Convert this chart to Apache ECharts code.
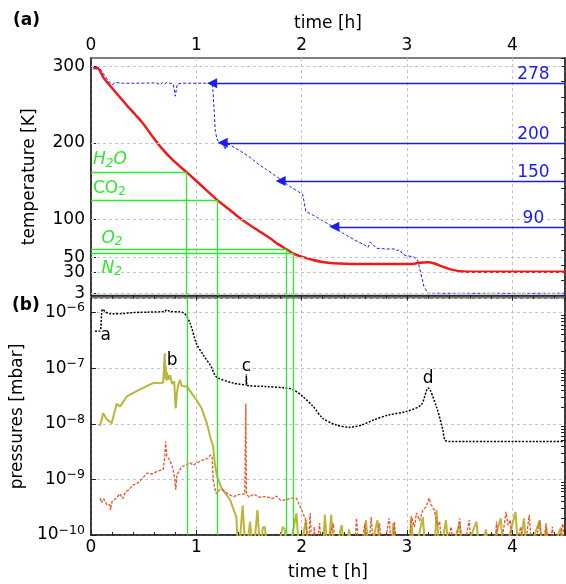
<!DOCTYPE html>
<html><head><meta charset="utf-8">
<script src="https://cdn.jsdelivr.net/npm/echarts@6/dist/echarts.min.js"></script>
<style>html,body{margin:0;padding:0;background:#fff}#c{width:566px;height:584px}</style>
</head><body><div id="c"></div>
<script>
// ---------- data ----------
const timeTicks = [0, 1, 2, 3, 4];
const tempTicks = [3, 30, 50, 100, 200, 300];

const redTime = [0.02,0.07,0.12,0.18,0.26,0.34,0.42,0.49,0.575,0.67,0.78,0.907,1.0,1.1,1.197,1.3,1.4,1.5,1.6,1.7,1.78,1.855,1.918,2.0,2.1,2.2,2.3,2.5,2.8,3.05,3.12,3.2,3.26,3.32,3.4,3.5,3.7,4.5];
const redTemp = [298,297,285,275,262,249,237,226,210,193,177,161.6,150,137.5,125.3,114,103,93,84,75,67,60.7,55.4,51,47,44,42.5,41.5,41.5,41.5,43,43.5,42,39,35,32,31.3,31.3];

const blueTime = [0.0,0.05,0.08,0.12,0.16,0.2,0.23,0.3,0.5,0.62,0.66,0.68,0.7,0.72,0.75,0.78,0.79,0.8,0.81,0.82,0.86,1.0,1.15,1.16,1.17,1.18,1.2,1.23,1.26,1.27,1.29,1.31,1.41,1.5,1.6,1.665,1.72,1.79,1.886,1.97,2.01,2.02,2.04,2.1,2.2,2.3,2.4,2.5,2.6,2.63,2.65,2.67,2.71,2.8,2.88,2.9,2.93,2.96,3.0,3.06,3.1,3.13,3.16,3.2,4.5];
const blueTemp = [300,300,298,290,282,276,279,278,278,278.5,276,279,277,279,278,277,270,261,270,277,278,278,278,265,240,215,203,200,198,191,197,198,190,182,171,165,160,153,143,136,132,125,110,106,98,90,81,73,66,63,70,68,62,61,61,59,60,54,52,51,47,30,12,3,3];

const setTemps = [278, 200, 150, 90];
const setArrowTimes = [1.15, 1.25, 1.8, 2.31];
const setLabelTime = 4.2;

const gasLabels = ['{i|H}{si|2}{i|O}', '{n|CO}{s|2}', '{i|O}{si|2}', '{i|N}{si|2}'];
const gasTemps = [161.6, 125.3, 60.7, 55.4];
const gasTimes = [0.907, 1.197, 1.855, 1.918];
const gasLabelPos = [[0.0, 177.7], [0.0, 140.6], [0.08, 75.1], [0.08, 35.8]];

const totTime = [0.038,0.085,0.1,0.11,0.14,0.18,0.3,0.4,0.55,0.7,0.72,0.75,0.875,0.94,1.0,1.065,1.14,1.175,1.21,1.35,1.47,1.475,1.48,1.65,1.855,1.92,2.01,2.11,2.2,2.33,2.455,2.57,2.68,2.83,2.99,3.135,3.2,3.28,3.34,3.36,3.4,4.5];
const totP = [4.6e-7,4.7e-7,9e-7,1.15e-6,1.02e-6,9.5e-7,9.6e-7,1.0e-6,1.02e-6,1.05e-6,1.12e-6,1.05e-6,1.0e-6,6.5e-7,2.8e-7,1.74e-7,1.07e-7,7.6e-8,6.6e-8,5.4e-8,5.0e-8,7.6e-8,5.0e-8,4.7e-8,4.4e-8,4.1e-8,3.1e-8,2.04e-8,1.26e-8,9.5e-9,8.7e-9,9.5e-9,1.17e-8,1.45e-8,1.66e-8,2.2e-8,4.4e-8,2.0e-8,7.8e-9,5.1e-9,4.8e-9,4.8e-9];

const oliveTime = [0.085,0.116,0.15,0.196,0.244,0.275,0.34,0.46,0.59,0.685,0.69,0.70,0.705,0.71,0.715,0.72,0.735,0.75,0.77,0.79,0.80,0.805,0.815,0.83,0.845,0.86,0.91,1.0,1.05,1.1,1.14,1.16,1.175,1.197,1.24,1.32,1.38,1.40,1.44,1.47,1.51,1.54,1.58,1.61,1.63,1.65,1.68,1.76,1.82,1.84,1.87,1.95,1.98,2.04,2.07,2.2,2.22,2.25,2.28,2.31,2.38,2.41,2.45,2.48,2.58,2.61,2.64,2.72,2.75,2.85,2.87,2.9,3.02,3.04,3.07,3.15,3.18,3.26,3.28,3.31,3.37,3.4,3.5,3.53,3.66,3.69,3.75,3.78,3.89,3.92,4.03,4.06,4.11,4.14,4.26,4.29,4.32,4.35,4.46,4.5];
const oliveP = [9.1e-9,1.55e-8,1.2e-8,1.02e-8,2.3e-8,2.04e-8,3.1e-8,4.1e-8,5.4e-8,5.5e-8,5.6e-8,1.86e-7,6.5e-8,1.1e-7,6e-8,8.5e-8,6.2e-8,7.5e-8,5.2e-8,5.8e-8,2.5e-8,1.9e-8,3.5e-8,5.2e-8,6.2e-8,4.8e-8,4.7e-8,2.7e-8,1.9e-8,1.02e-8,5.1e-9,3.9e-9,1.95e-9,1.12e-9,6.9e-10,4.3e-10,2.1e-10,4e-11,3.4e-10,4e-11,1.74e-10,4e-11,2.8e-10,4e-11,1.35e-10,1.4e-10,4e-11,4e-11,1.4e-10,1.26e-10,4e-11,2.45e-10,4e-11,1.86e-10,4e-11,4e-11,2.3e-10,4e-11,2.3e-10,4e-11,1.5e-10,4e-11,1.26e-10,4e-11,4e-11,1.86e-10,4e-11,1.86e-10,4e-11,4e-11,1.62e-10,4e-11,4e-11,2.0e-10,4e-11,2.1e-10,4e-11,4e-11,2.8e-10,4e-11,1.86e-10,4e-11,1.62e-10,4e-11,1.74e-10,4e-11,1.26e-10,4e-11,2.0e-10,4e-11,2.6e-10,4e-11,2.0e-10,4e-11,1.86e-10,4e-11,1.4e-10,4e-11,1.35e-10,4e-11];

const orangeTime = [0.085,0.1,0.12,0.15,0.18,0.185,0.2,0.24,0.275,0.3,0.33,0.36,0.4,0.44,0.48,0.53,0.58,0.63,0.685,0.70,0.708,0.72,0.75,0.78,0.795,0.805,0.815,0.86,0.9,0.94,0.97,1.03,1.08,1.11,1.135,1.15,1.16,1.175,1.19,1.22,1.25,1.3,1.35,1.4,1.46,1.47,1.475,1.5,1.54,1.6,1.665,1.72,1.76,1.8,1.855,1.9,1.95,2.0,2.04,2.06,2.08,2.1,2.12,2.14,2.17,2.2,2.3,2.33,2.5,2.52,2.55,2.6,2.63,2.66,2.69,2.74,2.77,2.83,2.86,2.88,2.91,3.02,3.04,3.07,3.09,3.12,3.15,3.18,3.21,3.23,3.26,3.29,3.31,3.34,3.42,3.45,3.5,3.53,3.59,3.62,3.83,3.85,3.88,3.94,3.96,3.98,4.01,4.08,4.11,4.16,4.19,4.26,4.29,4.32,4.35,4.38,4.41,4.48,4.5];
const orangeP = [4.6e-10,3.8e-10,4.5e-10,3.5e-10,3.5e-10,2.8e-10,4e-10,4.6e-10,5.5e-10,4.5e-10,6e-10,6.5e-10,8e-10,8.5e-10,1.0e-9,1.3e-9,1.25e-9,1.4e-9,1.5e-9,2.5e-9,4.8e-9,2.6e-9,2.2e-9,1.5e-9,1.0e-9,6.5e-10,1.2e-9,1.7e-9,1.8e-9,2.0e-9,1.8e-9,2.1e-9,2.3e-9,2.4e-9,2.75e-9,2.5e-9,1.0e-9,7e-10,5.5e-10,6.5e-10,6.5e-10,5.5e-10,4.9e-10,5.3e-10,5.5e-10,2.3e-8,5.5e-10,4.8e-10,5.4e-10,4.8e-10,4.9e-10,4.5e-10,5.0e-10,4.2e-10,4.3e-10,4.6e-10,4.6e-10,2.8e-10,1.86e-10,4e-11,2.45e-10,4e-11,1.4e-10,4e-11,1.62e-10,4e-11,1.62e-10,4e-11,4e-11,2.0e-10,4e-11,1.62e-10,4e-11,2.1e-10,4e-11,1.62e-10,4e-11,2.0e-10,4e-11,1.74e-10,4e-11,4e-11,2.2e-10,1.4e-10,2.5e-10,1.8e-10,2.8e-10,3.2e-10,4.6e-10,3.5e-10,2.8e-10,1.5e-10,1.74e-10,4e-11,1.4e-10,4e-11,2.0e-10,4e-11,1.86e-10,4e-11,4e-11,1.74e-10,4e-11,2.6e-10,1.5e-10,1.86e-10,4e-11,1.4e-10,4e-11,2.3e-10,4e-11,1.74e-10,4e-11,1.62e-10,4e-11,1.4e-10,4e-11,1.6e-10,4e-11];

const peakLabels = ['a', 'b', 'c', 'd'];
const peakTime = [0.14, 0.77, 1.475, 3.2];
const peakP = [3.9e-7, 1.35e-7, 1.07e-7, 6.6e-8];

const pMin = 1e-10, pMax = 1.83e-6;
const pMinorTicks = [];
[1e-10, 1e-9, 1e-8, 1e-7, 1e-6].forEach(d => { for (let k = 2; k <= 9; k++) pMinorTicks.push(k * d); });

// ---------- style ----------
const FONT = 'DejaVu Sans';
const FS = 17;
const GREEN = '#2ee82e', BLUE = '#1c1cf2', RED = '#f01a1a', OLIVE = '#bdb43c', ORANGE = '#e8552a';
const GRIDC = '#c4c4c4';
const zip = (a, b) => a.map((v, i) => [v, b[i]]);
function expLabel(v) {
  const e = Math.round(Math.log10(v));
  return '{b|10}{s|' + String(e).replace('-', '\u2212') + '}';
}

const xBase = (grid, pos, name, gap) => ({
  gridIndex: grid, type: 'value', position: pos, min: 0, max: 4.5, interval: 1,
  name: name, nameLocation: 'middle', nameGap: gap,
  nameTextStyle: { fontFamily: FONT, fontSize: FS, color: '#000' },
  axisLine: { show: true, lineStyle: { color: '#222', width: 1.5 } },
  axisTick: { show: true, inside: true, length: 5, lineStyle: { color: '#222' } },
  minorTick: { show: true, splitNumber: 5, length: 3, lineStyle: { color: '#222' } },
  axisLabel: { fontFamily: FONT, fontSize: FS, color: '#000', margin: 4, showMaxLabel: false },
  splitLine: { show: true, lineStyle: { color: GRIDC, type: [3, 3], width: 1 } }
});

const option = {
  animation: false,
  backgroundColor: '#fff',
  textStyle: { fontFamily: FONT },
  grid: [
    { left: 91, right: 1, top: 58, height: 237.6, show: true, borderColor: '#555', borderWidth: 1.5, backgroundColor: 'transparent' },
    { left: 91, right: 1, top: 298, height: 237, show: true, borderColor: '#555', borderWidth: 1.5, backgroundColor: 'transparent' }
  ],
  xAxis: [ xBase(0, 'top', 'time [h]', 26), xBase(1, 'bottom', 'time t [h]', 29) ],
  yAxis: [
    {
      gridIndex: 0, type: 'value', position: 'left', min: 0, max: 311,
      name: 'temperature [K]', nameLocation: 'middle', nameGap: 53,
      nameTextStyle: { fontFamily: FONT, fontSize: FS, color: '#000' },
      axisLine: { show: true, lineStyle: { color: '#222', width: 1.5 } },
      axisTick: { show: true, inside: true, length: 5, customValues: tempTicks, lineStyle: { color: '#222' } },
      axisLabel: { fontFamily: FONT, fontSize: FS, color: '#000', margin: 6, customValues: tempTicks },
      splitLine: { show: false }
    },
    {
      gridIndex: 0, type: 'value', position: 'right', min: 0, max: 311, interval: 20,
      axisLine: { show: true, lineStyle: { color: '#222', width: 1.5 } },
      axisTick: { show: true, inside: true, length: 4, lineStyle: { color: '#222' } },
      axisLabel: { show: false }, splitLine: { show: false }
    },
    {
      gridIndex: 1, type: 'log', logBase: 10, position: 'left', min: pMin, max: pMax,
      name: 'pressures [mbar]', nameLocation: 'middle', nameGap: 58,
      nameTextStyle: { fontFamily: FONT, fontSize: FS, color: '#000' },
      axisLine: { show: true, lineStyle: { color: '#222', width: 1.5 } },
      axisTick: { show: true, inside: true, length: 5, lineStyle: { color: '#222' } },
      axisLabel: {
        margin: 6, showMaxLabel: false, formatter: expLabel,
        rich: {
          b: { fontFamily: FONT, fontSize: FS, color: '#000', lineHeight: 22 },
          s: { fontFamily: FONT, fontSize: 12.5, color: '#000', lineHeight: 12, verticalAlign: 'top', padding: [0, 0, 10, 0] }
        }
      },
      splitLine: { show: true, lineStyle: { color: GRIDC, type: [3, 3], width: 1 } }
    },
    {
      gridIndex: 1, type: 'log', logBase: 10, position: 'right', min: pMin, max: pMax,
      axisLine: { show: true, lineStyle: { color: '#222', width: 1.5 } },
      axisTick: { show: true, inside: true, length: 4, customValues: pMinorTicks, lineStyle: { color: '#222' } },
      axisLabel: { show: false }, splitLine: { show: false }
    }
  ],
  graphic: [
    { type: 'text', left: 13, top: 12, style: { text: '(a)', fontFamily: FONT, fontSize: FS, fontWeight: 'bold', fill: '#000' } },
    { type: 'text', left: 12, top: 297, style: { text: '(b)', fontFamily: FONT, fontSize: FS, fontWeight: 'bold', fill: '#000' } }
  ],
  series: [
    {
      type: 'line', xAxisIndex: 0, yAxisIndex: 0, data: [], z: 0, silent: true,
      markLine: {
        silent: true, symbol: 'none', animation: false, label: { show: false },
        lineStyle: { color: GRIDC, type: [3, 3], width: 1 },
        data: tempTicks.map(v => ({ yAxis: v }))
      }
    },
    {
      type: 'line', xAxisIndex: 0, yAxisIndex: 0, data: [], z: 1, silent: true,
      markLine: {
        silent: true, symbol: 'none', animation: false, label: { show: false },
        lineStyle: { color: GREEN, type: 'solid', width: 1.3 },
        data: gasTemps.flatMap((T, i) => [
          [{ coord: [0, T] }, { coord: [gasTimes[i], T] }],
          [{ coord: [gasTimes[i], T] }, { coord: [gasTimes[i], 0] }]
        ])
      },
      markPoint: {
        silent: true, symbol: 'circle', symbolSize: 0, animation: false,
        label: {
          show: true, position: 'right', distance: 2,
          formatter: p => p.name,
          rich: {
            n: { fontFamily: FONT, fontSize: FS, color: GREEN, lineHeight: 20 },
            i: { fontFamily: FONT, fontSize: FS, color: GREEN, fontStyle: 'italic', lineHeight: 20 },
            s: { fontFamily: FONT, fontSize: 12, color: GREEN, lineHeight: 12, verticalAlign: 'bottom', padding: [8, 0, 0, 0] },
            si: { fontFamily: FONT, fontSize: 12, color: GREEN, fontStyle: 'italic', lineHeight: 12, verticalAlign: 'bottom', padding: [8, 0, 0, 0] }
          }
        },
        data: gasLabels.map((l, i) => ({ name: l, coord: gasLabelPos[i] }))
      }
    },
    {
      type: 'line', xAxisIndex: 0, yAxisIndex: 0, data: zip(blueTime, blueTemp), z: 3,
      showSymbol: false,
      lineStyle: { color: BLUE, width: 1, type: [3, 2] },
      markLine: {
        silent: true, animation: false, symbol: ['none', 'triangle'], symbolSize: 10,
        label: { show: false },
        lineStyle: { color: BLUE, type: 'solid', width: 1.3 },
        data: setTemps.map((T, i) => [{ coord: [4.5, T] }, { coord: [setArrowTimes[i], T] }])
      },
      markPoint: {
        silent: true, symbol: 'circle', symbolSize: 0, animation: false,
        label: { show: true, position: 'top', distance: 0, color: BLUE, fontFamily: FONT, fontSize: FS, formatter: p => p.name },
        data: setTemps.map(T => ({ name: String(T), coord: [setLabelTime, T] }))
      }
    },
    {
      type: 'line', xAxisIndex: 0, yAxisIndex: 0, data: zip(redTime, redTemp), z: 4,
      showSymbol: false, smooth: 0.3,
      lineStyle: { color: RED, width: 2.5 }
    },
    {
      type: 'line', xAxisIndex: 1, yAxisIndex: 2, data: [], z: 1, silent: true,
      markLine: {
        silent: true, symbol: 'none', animation: false, label: { show: false },
        lineStyle: { color: GREEN, type: 'solid', width: 1.3 },
        data: gasTimes.map(t => ({ xAxis: t }))
      }
    },
    {
      type: 'line', xAxisIndex: 1, yAxisIndex: 2, data: zip(oliveTime, oliveP), z: 2,
      showSymbol: false, lineStyle: { color: OLIVE, width: 2 }
    },
    {
      type: 'line', xAxisIndex: 1, yAxisIndex: 2, data: zip(orangeTime, orangeP), z: 3,
      showSymbol: false, lineStyle: { color: ORANGE, width: 1.3, type: [3, 1.5] }
    },
    {
      type: 'line', xAxisIndex: 1, yAxisIndex: 2, data: zip(totTime, totP), z: 4,
      showSymbol: false, smooth: 0.3, lineStyle: { color: '#000', width: 1.5, type: [2, 1.5] },
      markPoint: {
        silent: true, symbol: 'circle', symbolSize: 0, animation: false,
        label: { show: true, position: 'inside', color: '#000', fontFamily: FONT, fontSize: FS, formatter: p => p.name },
        data: peakLabels.map((l, i) => ({ name: l, coord: [peakTime[i], peakP[i]] }))
      }
    }
  ]
};
const chart = echarts.init(document.getElementById('c'), null, { renderer: 'canvas' });
chart.setOption(option);
</script></body></html>
